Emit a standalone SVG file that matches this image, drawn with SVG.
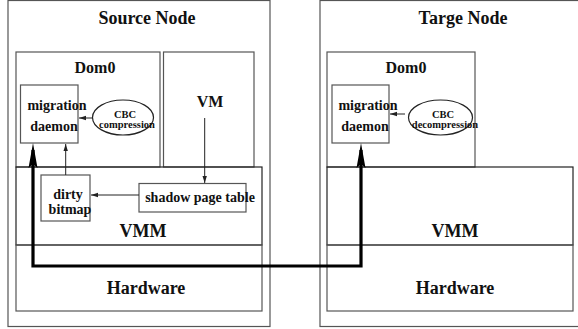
<svg xmlns="http://www.w3.org/2000/svg" width="578" height="329" viewBox="0 0 578 329">
<defs>
<style>
.box{fill:none;stroke:#555;stroke-width:1.2}
.dk{fill:none;stroke:#222;stroke-width:1.2}
.t{font-family:"Liberation Serif","Times New Roman",serif;font-weight:bold;fill:#111;text-anchor:middle}
.thin{fill:none;stroke:#222;stroke-width:1}
.thick{fill:none;stroke:#000;stroke-width:3.2}
</style>
<marker id="ah" markerWidth="8" markerHeight="6" refX="7" refY="3" orient="auto" markerUnits="userSpaceOnUse">
<path d="M0,0.8 L7,3 L0,5.2 Z" fill="#222"/>
</marker>
<marker id="big" markerWidth="26" markerHeight="12" refX="18" refY="6" orient="auto-start-reverse" markerUnits="userSpaceOnUse">
<path d="M0,1.5 L25,6 L0,10.5 L4,6 Z" fill="#000"/>
</marker>
</defs>
<rect width="578" height="329" fill="#fff"/>

<g id="source-node">
<rect class="box" x="8" y="0.5" width="262" height="326"/>
<text class="t" x="147" y="24" font-size="18">Source Node</text>
</g>
<g id="source-dom0">
<rect class="box" x="16" y="52" width="144" height="115"/>
<text class="t" x="95" y="73" font-size="16">Dom0</text>
</g>
<g id="source-vm">
<rect class="box" x="163.5" y="52" width="90.5" height="115"/>
<text class="t" x="210" y="107" font-size="16">VM</text>
</g>
<g id="source-vmm">
<rect class="dk" x="16" y="167" width="246" height="78"/>
<text class="t" x="143" y="237" font-size="18">VMM</text>
</g>
<g id="source-hardware">
<rect class="box" x="16" y="245" width="246" height="66"/>
<text class="t" x="146" y="294" font-size="18">Hardware</text>
</g>
<g id="source-daemon">
<rect class="box" x="20.5" y="85" width="57.5" height="58"/>
<text class="t" x="57" y="110" font-size="14">migration</text>
<text class="t" x="54" y="131" font-size="14">daemon</text>
</g>
<g id="source-cbc">
<ellipse class="dk" cx="123" cy="117.5" rx="30.5" ry="17.5"/>
<text class="t" x="125" y="118" font-size="10.5">CBC</text>
<text class="t" x="127" y="127.5" font-size="10.5">compression</text>
</g>
<g id="dirty-bitmap">
<rect class="box" x="41" y="175" width="49" height="46"/>
<text class="t" x="68" y="199" font-size="14">dirty</text>
<text class="t" x="70" y="214" font-size="14">bitmap</text>
</g>
<g id="shadow-page-table">
<rect class="box" x="139" y="183.5" width="107" height="28.5"/>
<text class="t" x="200" y="202" font-size="14">shadow page table</text>
</g>

<g id="target-node">
<rect class="box" x="320" y="0.5" width="262" height="326"/>
<text class="t" x="463" y="24" font-size="18">Targe Node</text>
</g>
<g id="target-dom0">
<rect class="box" x="327" y="52" width="148" height="115"/>
<text class="t" x="406" y="73" font-size="16">Dom0</text>
</g>
<g id="target-vmm">
<rect class="dk" x="327" y="167" width="246" height="78"/>
<text class="t" x="455" y="237" font-size="18">VMM</text>
</g>
<g id="target-hardware">
<rect class="box" x="327" y="245" width="246" height="66"/>
<text class="t" x="455" y="294" font-size="18">Hardware</text>
</g>
<g id="target-daemon">
<rect class="box" x="332" y="85" width="57" height="58"/>
<text class="t" x="368" y="110" font-size="14">migration</text>
<text class="t" x="365" y="131" font-size="14">daemon</text>
</g>
<g id="target-cbc">
<ellipse class="dk" cx="440.5" cy="117.5" rx="32" ry="17.5"/>
<text class="t" x="443" y="118" font-size="10.5">CBC</text>
<text class="t" x="445" y="127.5" font-size="10.5">decompression</text>
</g>

<g id="connectors">
<line class="thin" x1="92.5" y1="118" x2="79" y2="118" marker-end="url(#ah)"/>
<line class="thin" x1="405" y1="114" x2="390" y2="114" marker-end="url(#ah)"/>
<line class="thin" x1="65.7" y1="175" x2="65.7" y2="144" marker-end="url(#ah)"/>
<line class="thin" x1="139" y1="195" x2="91" y2="195" marker-end="url(#ah)"/>
<line class="thin" x1="204.7" y1="118" x2="204.7" y2="183" marker-end="url(#ah)"/>
<path class="thick" d="M33,150 L33,266 L361,266 L361,150" marker-start="url(#big)" marker-end="url(#big)"/>
</g>
</svg>
